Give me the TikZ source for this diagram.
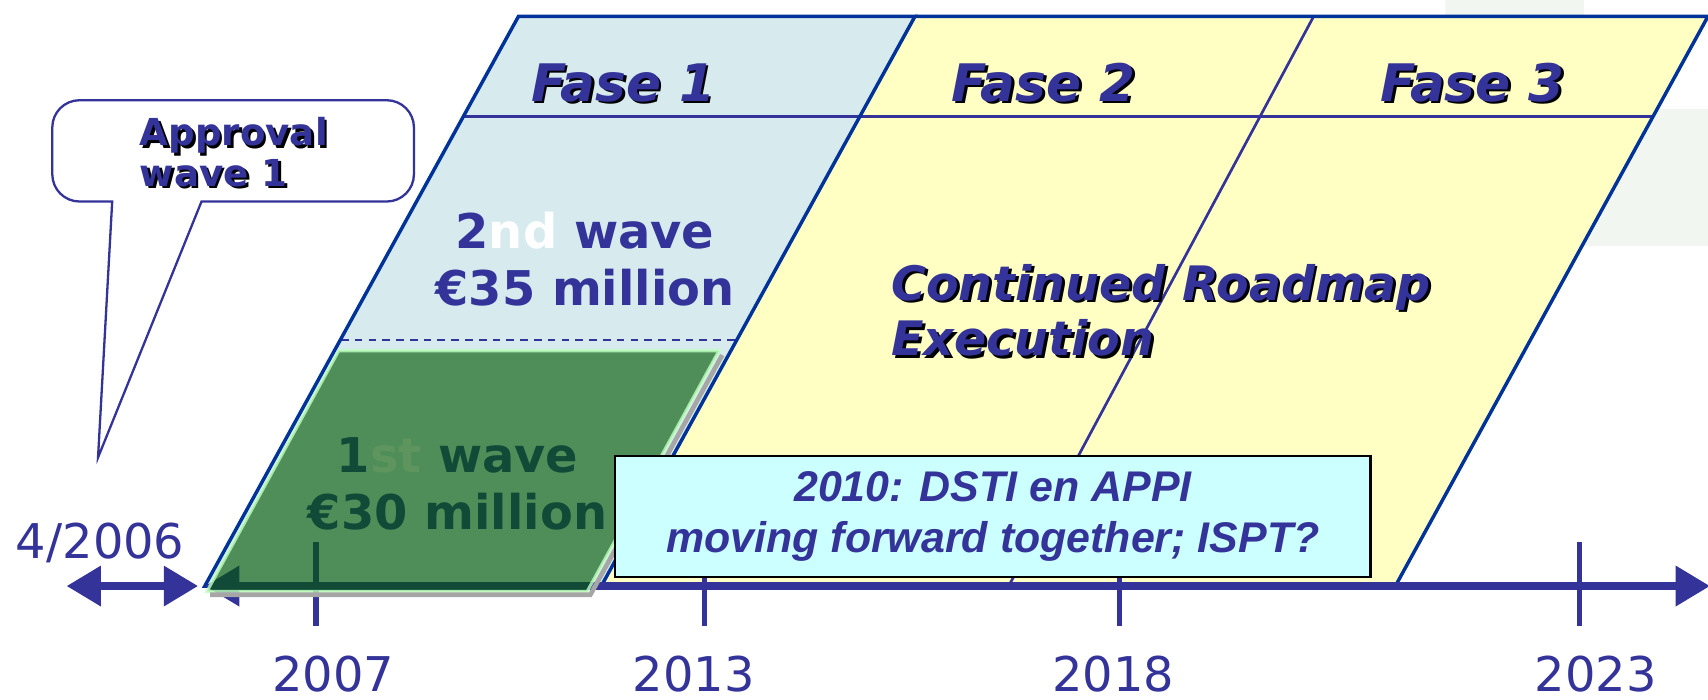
\documentclass[tikz,border=0pt]{standalone}
\usepackage{fontspec}
\setmainfont{DejaVu Sans}
\newfontfamily\boxfont{Liberation Sans}
\usetikzlibrary{arrows.meta}
\definecolor{fblue}{RGB}{51,51,153}
\definecolor{edge}{RGB}{0,51,153}
\definecolor{faseone}{RGB}{215,235,239}
\definecolor{faseyel}{RGB}{255,255,195}
\definecolor{boxcyan}{RGB}{204,255,255}
\definecolor{waveone}{RGB}{0,88,0}
\definecolor{tmpl}{RGB}{241,246,241}
\newcommand{\shad}[1]{\leavevmode\rlap{\kern0.7pt\raisebox{-0.7pt}{\color{black}#1}}#1}

\begin{document}
\begin{tikzpicture}[x=0.01cm,y=-0.01cm,
  frame/.style={draw=edge,line width=0.9pt},
  inner/.style={draw=fblue,line width=0.7pt},
  fase/.style={text=fblue,font=\fontsize{13.5}{16}\selectfont\bfseries\itshape,anchor=base},
  wave/.style={text=fblue,font=\fontsize{12.5}{14.8}\selectfont\bfseries,align=center},
  year/.style={text=fblue,font=\fontsize{12.5}{15}\selectfont,anchor=base},
  axis/.style={draw=fblue,line width=2.3pt,{Triangle[length=9pt,width=10pt]}-{Triangle[length=9pt,width=10pt]}},
  tick/.style={draw=fblue,line width=1.4pt}]
\useasboundingbox (0,0) rectangle (1568,642);
\fill[tmpl] (1327,0) rectangle (1454,100) (1454,100) rectangle (1568,226);

\coordinate (p1) at (476,15);
\coordinate (p2) at (840,15);
\coordinate (p3) at (552,538);
\coordinate (p4) at (188,538);
\coordinate (q2) at (1568,15);
\coordinate (q3) at (1281,538);
\fill[faseyel] (p2) -- (q2) -- (q3) -- (p3) -- cycle;
\fill[faseone] (p1) -- (p2) -- (p3) -- (p4) -- cycle;
\draw[inner] (425,107) -- (1518,107);
\draw[inner] (1206,15) -- (926,538);
\draw[inner,dashed,dash pattern=on 2pt off 1.6pt] (313,312) -- (677,312);
\draw[frame] (p2) -- (q2) -- (q3);
\draw[frame] (p1) -- (p2) -- (p3) -- (p4) -- cycle;

\node[fase] (f1) at (572,93) {\shad{Fase 1}};
\node[fase] (f2) at (958,93) {\shad{Fase 2}};
\node[fase] (f3) at (1352,93) {\shad{Fase 3}};
\node[wave] (w2) at (537,238) {2\textcolor{white}{nd} wave\\€35 million};
\node[text=fblue,font=\fontsize{12.4}{14.5}\selectfont\bfseries\itshape,align=left,anchor=west] (road) at (806,286) {\shad{Continued Roadmap}\\\shad{Execution}};
\node[wave] (w1) at (420,444) {1\textcolor{white}{st} wave\\€30 million};

\coordinate (s0) at (61,538);
\coordinate (s1) at (182,538);
\coordinate (a0) at (188,538);
\coordinate (a1) at (1570,538);
\draw[axis] (s0) -- (s1);
\draw[axis] (a0) -- (a1);
\foreach \x in {290,647,1028,1450} \draw[tick] (\x,498) -- (\x,575);

\filldraw[fill=waveone,fill opacity=0.63,draw=green!25!white,draw opacity=0.8,line width=0.8pt] (311,322) -- (660,322) -- (539,543) -- (190,543) -- cycle;
\draw[gray!70,line width=1.2pt] (193,546) -- (542,546) -- (663,326);

\node[draw=black,fill=boxcyan,line width=0.6pt,minimum width=6.93cm,minimum height=1.11cm,inner sep=0pt,text=fblue,font=\boxfont\fontsize{11.2}{13.4}\selectfont\bfseries\itshape,align=center] (dsti) at (911.5,474) {2010: DSTI en APPI\\moving forward together; ISPT?};

\draw[fill=white,draw=fblue,line width=0.6pt] (214,92) [rounded corners=0.25cm] -- (48,92) -- (48,185) [sharp corners] -- (103,185) -- (90,420) -- (185,185) [rounded corners=0.25cm] -- (380,185) -- (380,92) -- cycle;
\node[text=fblue,font=\fontsize{9.7}{10.5}\selectfont\bfseries,align=left,anchor=west] (appr) at (116,141) {\shad{Approval}\\\shad{wave 1}};

\node[year] (d0) at (92,513) {4/2006};
\foreach \x/\yr in {306/2007,637/2013,1022/2018,1465/2023} \node[year] (y\yr) at (\x,635) {\yr};
\end{tikzpicture}
\end{document}
